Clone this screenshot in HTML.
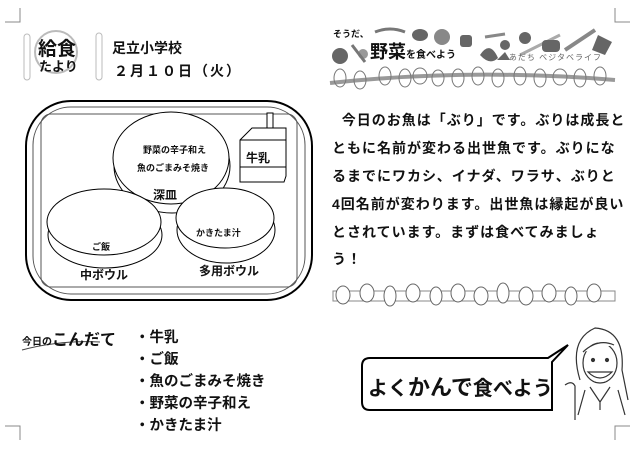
<!DOCTYPE html>
<html><head><meta charset="utf-8"><style>
body{margin:0;background:#fff;width:640px;height:452px;overflow:hidden;position:relative;font-family:"Liberation Sans","Noto Sans CJK JP",sans-serif;color:#111}
.a{position:absolute;white-space:nowrap}
.b{font-weight:bold}
.p{position:absolute;left:332px;font-size:14px;font-weight:bold;letter-spacing:1px;white-space:nowrap}
.m{position:absolute;left:135px;font-size:14.5px;font-weight:bold;white-space:nowrap}
</style></head><body>
<svg class="a" style="left:0;top:0" width="640" height="452" viewBox="0 0 640 452">
<g stroke="#888" fill="none" stroke-width="1">
<path d="M5 22H20V8"/><path d="M615 8V22H630"/>
<path d="M5 426H20V440"/><path d="M630 426H615V440"/>
</g>
<circle cx="56" cy="52" r="21" fill="none" stroke="#bbb" stroke-width="2"/>
<rect x="24" y="34" width="6" height="46" rx="3" fill="none" stroke="#bbb"/>
<rect x="96" y="33" width="6" height="47" rx="3" fill="none" stroke="#bbb"/>
<rect x="26" y="101" width="286" height="199" rx="45" fill="none" stroke="#000" stroke-width="2"/>
<rect x="33" y="107" width="272" height="187" rx="38" fill="none" stroke="#555"/>
<rect x="41" y="114" width="256" height="173" rx="10" fill="none" stroke="#555"/>
<ellipse cx="172" cy="166" rx="58" ry="47" fill="#fff" stroke="#000"/>
<ellipse cx="171" cy="158" rx="58" ry="46" fill="#fff" stroke="#000"/>
<rect x="267" y="113" width="6" height="18" fill="#fff" stroke="#000"/>
<path d="M240 140L252 128H286L286 176L284 182H240Z" fill="#fff" stroke="#000"/>
<path d="M240 140H286M240 167H286M240 182V140" stroke="#000" fill="none"/>
<ellipse cx="105" cy="235" rx="57" ry="33" fill="#fff" stroke="#000"/>
<ellipse cx="104" cy="222" rx="57" ry="33" fill="#fff" stroke="#000"/>
<ellipse cx="226" cy="230" rx="49" ry="33" fill="#fff" stroke="#000"/>
<ellipse cx="225" cy="218" rx="49" ry="30" fill="#fff" stroke="#000"/>
<g fill="#666">
<circle cx="340" cy="56" r="8"/><circle cx="363" cy="54" r="5" fill="#999"/>
<path d="M352 45L365 62" stroke="#777" stroke-width="3"/>
<path d="M375 32Q390 26 405 32" stroke="#777" stroke-width="3" fill="none"/>
<ellipse cx="420" cy="35" rx="8" ry="6"/><circle cx="442" cy="37" r="8" fill="#888"/>
<rect x="460" y="35" width="12" height="12" rx="3"/>
<path d="M485 37L505 34" stroke="#888" stroke-width="3"/>
<path d="M480 55Q490 40 498 58Q490 66 480 55"/>
<circle cx="505" cy="45" r="5"/><circle cx="525" cy="38" r="6"/>
<path d="M520 55L560 35" stroke="#aaa" stroke-width="3"/>
<rect x="542" y="40" width="18" height="12" rx="4"/>
<path d="M565 50L595 30" stroke="#888" stroke-width="4"/>
<path d="M598 35L612 42L605 55L592 50Z"/>
<path d="M497 60L505 52L510 60Z"/>
</g>
<path d="M330 83Q470 68 615 80" stroke="#999" stroke-width="4" fill="none"/>
<g fill="none" stroke="#777" stroke-width="1">
<ellipse cx="340" cy="78" rx="6" ry="9"/><ellipse cx="360" cy="80" rx="6" ry="9"/><ellipse cx="385" cy="76" rx="6" ry="9"/>
<ellipse cx="405" cy="78" rx="6" ry="9"/><ellipse cx="420" cy="76" rx="7" ry="8"/><ellipse cx="438" cy="78" rx="6" ry="8"/>
<ellipse cx="458" cy="78" rx="6" ry="9"/><ellipse cx="478" cy="76" rx="6" ry="9"/><ellipse cx="498" cy="78" rx="6" ry="9"/>
<ellipse cx="520" cy="76" rx="6" ry="9"/><ellipse cx="540" cy="78" rx="6" ry="9"/><ellipse cx="560" cy="77" rx="7" ry="8"/>
<ellipse cx="580" cy="78" rx="6" ry="9"/><ellipse cx="600" cy="76" rx="6" ry="9"/>
</g>
<rect x="333" y="291" width="282" height="10" fill="none" stroke="#888"/>
<g fill="#fff" stroke="#666">
<ellipse cx="343" cy="295" rx="7" ry="9"/><ellipse cx="367" cy="293" rx="7" ry="9"/><ellipse cx="390" cy="296" rx="6" ry="10"/>
<ellipse cx="413" cy="293" rx="7" ry="9"/><ellipse cx="436" cy="296" rx="6" ry="9"/><ellipse cx="458" cy="293" rx="7" ry="9"/>
<ellipse cx="481" cy="296" rx="7" ry="9"/><ellipse cx="503" cy="293" rx="6" ry="10"/><ellipse cx="526" cy="296" rx="7" ry="9"/>
<ellipse cx="549" cy="293" rx="7" ry="9"/><ellipse cx="571" cy="296" rx="6" ry="9"/><ellipse cx="594" cy="293" rx="7" ry="9"/>
</g>
<path d="M370 358H548L568 345L552 362V410H370Q362 410 362 402V366Q362 358 370 358Z" fill="#fff" stroke="#000" stroke-width="2"/>
<g fill="#fff" stroke="#333" stroke-width="1.2">
<path d="M580 380Q568 340 595 328Q625 330 622 370L628 400"/>
<ellipse cx="600" cy="363" rx="17" ry="20"/>
<path d="M583 352Q598 338 614 345"/>
<path d="M588 372Q600 384 612 372Z"/>
<circle cx="593" cy="360" r="1.5" fill="#333"/><circle cx="607" cy="360" r="1.5" fill="#333"/>
<path d="M585 390L578 415M618 390L625 415M590 387L600 402L610 387M600 402V410"/>
<path d="M565 385Q572 380 575 386V420"/>
</g>
<path d="M22 350Q60 340 100 342" stroke="#444" fill="none"/>
</svg>

<div class="a b" style="left:38px;top:34px;font-size:19px">給食</div>
<div class="a b" style="left:39px;top:56px;font-size:13px">たより</div>
<div class="a b" style="left:112px;top:38px;font-size:14px">足立小学校</div>
<div class="a b" style="left:114px;top:61px;font-size:14px;letter-spacing:2px">２月１０日（火）</div>

<div class="a b" style="left:143px;top:143px;font-size:9px">野菜の辛子和え</div>
<div class="a b" style="left:137px;top:161px;font-size:9px">魚のごまみそ焼き</div>
<div class="a b" style="left:153px;top:186px;font-size:12px">深皿</div>
<div class="a b" style="left:246px;top:149px;font-size:12px">牛乳</div>
<div class="a b" style="left:92px;top:240px;font-size:9px">ご飯</div>
<div class="a b" style="left:80px;top:266px;font-size:12px">中ボウル</div>
<div class="a b" style="left:196px;top:226px;font-size:9px">かきたま汁</div>
<div class="a b" style="left:199px;top:262px;font-size:12px">多用ボウル</div>

<div class="a b" style="left:333px;top:27px;font-size:9px">そうだ、</div>
<div class="a b" style="left:370px;top:38px;font-size:18px">野菜<span style="font-size:10px">を食べよう</span></div>
<div class="a" style="left:500px;top:52px;font-size:8px;color:#666;letter-spacing:1px">▲あだち ベジタベライフ</div>

<div class="p" style="top:110px">&nbsp;&nbsp;今日のお魚は「ぶり」です。ぶりは成長と</div>
<div class="p" style="top:138px">ともに名前が変わる出世魚です。ぶりにな</div>
<div class="p" style="top:166px">るまでにワカシ、イナダ、ワラサ、ぶりと</div>
<div class="p" style="top:194px">4回名前が変わります。出世魚は縁起が良い</div>
<div class="p" style="top:222px">とされています。まずは食べてみましょ</div>
<div class="p" style="top:249px">う！</div>

<div class="a b" style="left:22px;top:326px;font-size:10px">今日の<span style="font-size:16px">こんだて</span></div>
<div class="m" style="top:326px">・牛乳</div>
<div class="m" style="top:348px">・ご飯</div>
<div class="m" style="top:370px">・魚のごまみそ焼き</div>
<div class="m" style="top:392px">・野菜の辛子和え</div>
<div class="m" style="top:414px">・かきたま汁</div>

<div class="a b" style="left:368px;top:370px;font-size:20px;letter-spacing:0px">よく<span style="font-size:22px">かんで</span>食べよう</div>
</body></html>
